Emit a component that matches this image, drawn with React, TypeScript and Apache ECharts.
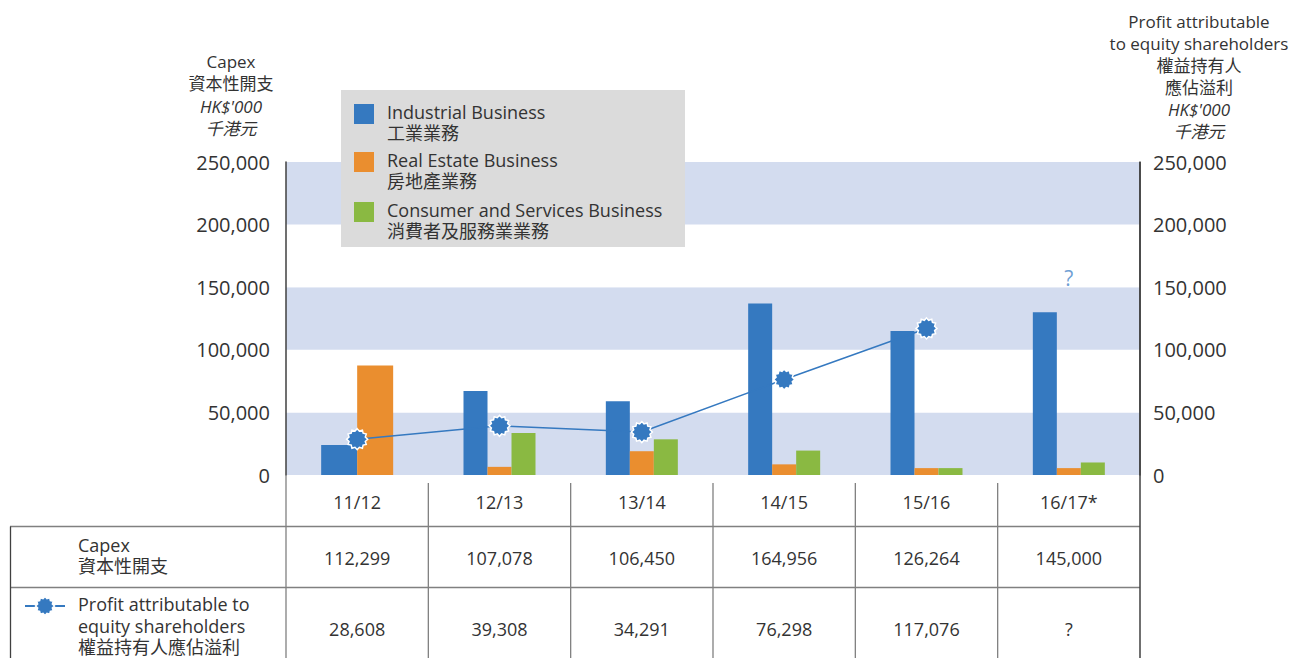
import React, { useEffect, useRef } from "react";
import * as echarts from "echarts";

const categories = ["11/12", "12/13", "13/14", "14/15", "15/16", "16/17*"];
const industrial = [24000, 67000, 59000, 137000, 115000, 130000];
const realEstate = [87500, 6500, 19000, 8500, 5500, 5500];
const consumer: (number | null)[] = [null, 33500, 28500, 19500, 5500, 10000];
const capex = [112299, 107078, 106450, 164956, 126264, 145000];
const profit: (number | null)[] = [28608, 39308, 34291, 76298, 117076, null];
const unknownMark: (number | null)[] = [null, null, null, null, null, 157000];

const leftTitle = ["Capex", "資本性開支", "HK$'000", "千港元"];
const rightTitle = ["Profit attributable", "to equity shareholders", "權益持有人", "應佔溢利", "HK$'000", "千港元"];
const legendItems = [
  ["Industrial Business", "工業業務"],
  ["Real Estate Business", "房地產業務"],
  ["Consumer and Services Business", "消費者及服務業業務"],
];
const rowCapex = ["Capex", "資本性開支"];
const rowProfit = ["Profit attributable to", "equity shareholders", "權益持有人應佔溢利"];

const BLUE = "#3579C0";
const ORANGE = "#EA8E2F";
const GREEN = "#8AB942";
const BAND = "#D3DCEF";
const TEXT = "#333333";
const GRID_LINE = "#808080";
const AXIS_LINE = "#404040";
const FONT = "'Open Sans', 'Noto Sans CJK TC', sans-serif";

function starPoints(cx: number, cy: number, rOut: number, rIn: number, n: number) {
  const pts: number[][] = [];
  for (let i = 0; i < n * 2; i++) {
    const r = i % 2 === 0 ? rOut : rIn;
    const a = (Math.PI * i) / n - Math.PI / 2;
    pts.push([cx + r * Math.cos(a), cy + r * Math.sin(a)]);
  }
  return pts;
}

function starSymbol() {
  const pts = starPoints(50, 50, 50, 40, 12);
  return "path://M" + pts.map((p) => p[0].toFixed(2) + "," + p[1].toFixed(2)).join("L") + "Z";
}

const fmt = (v: number | null) => (v == null ? "?" : v.toLocaleString("en-US"));

export default function App() {
  const ref = useRef<HTMLDivElement>(null);
  useEffect(() => {
    if (!ref.current) return;
    const chart = echarts.init(ref.current, null, { renderer: "svg" });
    const firstOnly = (arr: (number | null)[]) => arr.map((v, i) => (i === 0 ? v : null));
    const restOnly = (arr: (number | null)[]) => arr.map((v, i) => (i === 0 ? null : v));
    const yLabel = (v: number) => v.toLocaleString("en-US");

    chart.setOption({
      animation: false,
      textStyle: { fontFamily: FONT },
      grid: { left: 286, right: 155, top: 162, bottom: 183, containLabel: false },
      xAxis: [
        {
          type: "category",
          data: categories,
          axisLine: { show: false },
          axisTick: { show: false },
          axisLabel: { fontSize: 18, color: TEXT, margin: 18, fontFamily: FONT },
        },
        { type: "category", data: categories, show: false },
      ],
      yAxis: [
        {
          type: "value",
          min: 0,
          max: 250000,
          interval: 50000,
          position: "left",
          axisLine: { show: true, lineStyle: { color: AXIS_LINE, width: 1.5 } },
          axisTick: { show: false },
          splitLine: { show: false },
          splitArea: { show: true, areaStyle: { color: [BAND, "#FFFFFF"] } },
          axisLabel: { fontSize: 20, color: TEXT, margin: 16, formatter: yLabel, fontFamily: FONT },
        },
        {
          type: "value",
          min: 0,
          max: 250000,
          interval: 50000,
          position: "right",
          axisLine: { show: true, lineStyle: { color: AXIS_LINE, width: 1.5 } },
          axisTick: { show: false },
          splitLine: { show: false },
          axisLabel: { fontSize: 20, color: TEXT, margin: 13, formatter: yLabel, fontFamily: FONT },
        },
      ],
      series: [
        { type: "bar", name: "Industrial Business", xAxisIndex: 1, data: firstOnly(industrial), barWidth: 36, barGap: "0%", itemStyle: { color: BLUE } },
        { type: "bar", name: "Real Estate Business", xAxisIndex: 1, data: firstOnly(realEstate), barWidth: 36, barGap: "0%", itemStyle: { color: ORANGE } },
        { type: "bar", name: "Industrial Business", xAxisIndex: 0, data: restOnly(industrial), barWidth: 24, barGap: "0%", itemStyle: { color: BLUE } },
        { type: "bar", name: "Real Estate Business", xAxisIndex: 0, data: restOnly(realEstate), barWidth: 24, barGap: "0%", itemStyle: { color: ORANGE } },
        { type: "bar", name: "Consumer and Services Business", xAxisIndex: 0, data: restOnly(consumer), barWidth: 24, barGap: "0%", itemStyle: { color: GREEN } },
        {
          type: "line",
          name: "Profit attributable to equity shareholders",
          xAxisIndex: 0,
          yAxisIndex: 1,
          data: profit,
          symbol: starSymbol(),
          symbolSize: 21,
          lineStyle: { color: BLUE, width: 1.5 },
          itemStyle: { color: BLUE, borderColor: "#FFFFFF", borderWidth: 1.5 },
          z: 5,
        },
        {
          type: "scatter",
          xAxisIndex: 0,
          yAxisIndex: 1,
          data: unknownMark,
          symbolSize: 1,
          itemStyle: { color: "rgba(0,0,0,0)" },
          label: { show: true, position: "inside", formatter: "?", color: "#4A86C8", fontSize: 21, fontFamily: FONT },
        },
      ],
    });

    const xs = categories.map((_, i) => chart.convertToPixel({ xAxisIndex: 0 }, i) as number);
    const step = xs[1] - xs[0];
    const leftEdge = xs[0] - step / 2;
    const rightEdge = leftEdge + step * categories.length;
    const plotBottom = chart.convertToPixel({ yAxisIndex: 0 }, 0) as number;
    const plotTop = chart.convertToPixel({ yAxisIndex: 0 }, 250000) as number;
    const H = 658;

    const g: any[] = [];
    const txt = (text: string, x: number, y: number, opts: any = {}) =>
      g.push({
        type: "text",
        style: {
          text,
          x,
          y,
          fill: opts.fill || TEXT,
          font: `${opts.size || 18}px ${FONT}`,
          align: opts.align || "left",
          verticalAlign: "middle",
        },
        z: 10,
      });
    // multi-line block: one text element, rich styles, first line centred at yFirst
    const block = (lines: string[], x: number, yFirst: number, lh: number, size: number, align: string, italicFrom = 99) =>
      g.push({
        type: "text",
        style: {
          text: lines.map((l, i) => `{${i >= italicFrom ? "i" : "n"}|${l}}`).join("\n"),
          x,
          y: yFirst - lh / 2,
          align,
          verticalAlign: "top",
          rich: {
            n: { fontSize: size, fontFamily: FONT, fill: TEXT, lineHeight: lh, align },
            i: { fontSize: size, fontFamily: FONT, fill: TEXT, lineHeight: lh, fontStyle: "italic", align },
          },
        },
        z: 10,
      });
    const line = (x1: number, y1: number, x2: number, y2: number, color: string, w: number) =>
      g.push({ type: "line", shape: { x1, y1, x2, y2 }, style: { stroke: color, lineWidth: w }, z: 9 });

    // axis titles
    block(leftTitle, 231, 61, 22.5, 17, "center", 2);
    block(rightTitle, 1199, 21, 22, 17, "center", 4);

    // legend box
    g.push({ type: "rect", shape: { x: 341, y: 90, width: 344, height: 157 }, style: { fill: "#DBDBDB" }, z: 8 });
    const legColors = [BLUE, ORANGE, GREEN];
    const legY = [104, 152, 202];
    legendItems.forEach((pair, i) => {
      g.push({ type: "rect", shape: { x: 354, y: legY[i], width: 20, height: 20 }, style: { fill: legColors[i] }, z: 9 });
      block(pair, 387, legY[i] + 7.5, 21.5, 18, "left");
    });

    // table lines
    const rowTop1 = 526.5;
    const rowTop2 = 587.5;
    line(10, rowTop1, rightEdge, rowTop1, GRID_LINE, 1.3);
    line(10, rowTop2, rightEdge, rowTop2, GRID_LINE, 1.3);
    line(10.5, rowTop1, 10.5, H, AXIS_LINE, 1.3);
    for (let i = 0; i < categories.length; i++) {
      const x = leftEdge + i * step;
      line(x, i === 0 ? plotBottom : plotBottom + 8, x, H, GRID_LINE, 1.3);
    }
    line(rightEdge, plotTop, rightEdge, H, AXIS_LINE, 1.5);

    // table texts
    block(rowCapex, 78, 544.5, 21.5, 18, "left");
    block(rowProfit, 78, 604, 21.5, 18, "left");
    xs.forEach((x, i) => {
      txt(fmt(capex[i]), x, 558, { size: 18, align: "center" });
      txt(fmt(profit[i]), x, 629, { size: 18, align: "center" });
    });

    // row legend icon
    line(25, 606, 65, 606, BLUE, 1.8);
    g.push({
      type: "polygon",
      shape: { points: starPoints(45, 606, 9.5, 7.6, 12) },
      style: { fill: BLUE, stroke: "#FFFFFF", lineWidth: 1.5 },
      z: 11,
    });

    chart.setOption({ graphic: g });

    return () => chart.dispose();
  }, []);

  return <div ref={ref} style={{ position: "fixed", left: 0, top: 0, width: 1295, height: 658, background: "#fff" }} />;
}
